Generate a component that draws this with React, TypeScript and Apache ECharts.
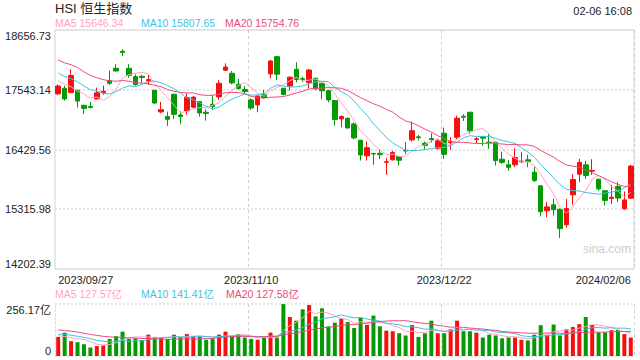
import React, { useEffect, useRef } from 'react';
import * as echarts from 'echarts';

const dates = [
  '2023/09/27', '2023/09/28', '2023/09/29',
  '2023/10/03', '2023/10/04', '2023/10/05', '2023/10/06', '2023/10/09', '2023/10/10', '2023/10/11', '2023/10/12', '2023/10/13',
  '2023/10/16', '2023/10/17', '2023/10/18', '2023/10/19', '2023/10/20', '2023/10/24', '2023/10/25', '2023/10/26', '2023/10/27',
  '2023/10/30', '2023/10/31',
  '2023/11/01', '2023/11/02', '2023/11/03', '2023/11/06', '2023/11/07', '2023/11/08', '2023/11/09', '2023/11/10',
  '2023/11/13', '2023/11/14', '2023/11/15', '2023/11/16', '2023/11/17', '2023/11/20', '2023/11/21', '2023/11/22',
  '2023/11/23', '2023/11/24', '2023/11/27', '2023/11/28', '2023/11/29', '2023/11/30',
  '2023/12/01', '2023/12/04', '2023/12/05', '2023/12/06', '2023/12/07', '2023/12/08', '2023/12/11', '2023/12/12',
  '2023/12/13', '2023/12/14', '2023/12/15', '2023/12/18', '2023/12/19', '2023/12/20', '2023/12/21', '2023/12/22',
  '2023/12/27', '2023/12/28', '2023/12/29',
  '2024/01/02', '2024/01/03', '2024/01/04', '2024/01/05', '2024/01/08', '2024/01/09', '2024/01/10', '2024/01/11',
  '2024/01/12', '2024/01/15', '2024/01/16', '2024/01/17', '2024/01/18', '2024/01/19', '2024/01/22', '2024/01/23',
  '2024/01/24', '2024/01/25', '2024/01/26', '2024/01/29', '2024/01/30', '2024/01/31',
  '2024/02/01', '2024/02/02', '2024/02/05', '2024/02/06',
];

const opens = [
  17466, 17571, 17490, 17534, 17254, 17230, 17372, 17490, 17713, 17943,
  18260, 17943, 17788, 17794, 17707, 17534, 17130, 17043, 17459, 17074,
  17149, 17217, 17323, 17124, 17273, 17410, 17906, 17850, 17645, 17546,
  17354, 17261, 17459, 17838, 18160, 17571, 17614, 17925, 17750, 17676,
  17757, 17664, 17527, 17341, 16999, 17012, 16907, 16603, 16311, 16355,
  16360, 16190, 16237, 16299, 16410, 16609, 16665, 16547, 16634, 16454,
  16733, 16559, 16659, 17049, 17124, 16615, 16659, 16566, 16566, 16249,
  16144, 16144, 16199, 16237, 16007, 15753, 15287, 15399, 15318, 15027,
  15585, 15970, 16144, 16026, 15877, 15660, 15517, 15740, 15324, 15523,
];
const closes = [
  17612, 17373, 17809, 17332, 17196, 17214, 17486, 17517, 17664, 17893,
  18238, 17813, 17640, 17773, 17732, 17296, 17172, 16992, 17085, 17045,
  17399, 17406, 17112, 17102, 17231, 17664, 17966, 17671, 17568, 17511,
  17203, 17426, 17397, 18079, 17833, 17454, 17778, 17734, 17735, 17911,
  17559, 17525, 17354, 16990, 17043, 16830, 16646, 16328, 16463, 16346,
  16334, 16201, 16374, 16229, 16402, 16780, 16650, 16505, 16614, 16590,
  16340, 16572, 17012, 17031, 16777, 16628, 16640, 16553, 16224, 16190,
  16097, 16280, 16212, 16210, 15850, 15270, 15360, 15306, 14955, 15330,
  15870, 16190, 15945, 16040, 15695, 15480, 15540, 15525, 15490, 16120,
];
const lows = [
  17450, 17340, 17480, 17211, 17093, 17192, 17365, 17447, 17633, 17885,
  18173, 17769, 17620, 17664, 17633, 17279, 17105, 16870, 16999, 16900,
  17074, 17205, 17043, 16969, 17167, 17354, 17893, 17645, 17540, 17478,
  17167, 17124, 17372, 17757, 17726, 17440, 17527, 17683, 17683, 17571,
  17540, 17366, 17310, 16876, 16845, 16825, 16620, 16224, 16224, 16144,
  16249, 15957, 16224, 16131, 16342, 16578, 16597, 16423, 16560, 16423,
  16256, 16423, 16609, 16962, 16721, 16547, 16504, 16442, 16131, 16162,
  16032, 16100, 16175, 16100, 15821, 15182, 15169, 15200, 14778, 14977,
  15399, 15821, 15883, 15957, 15660, 15386, 15411, 15449, 15306, 15511,
];
const highs = [
  17645, 17620, 17925, 17540, 17260, 17316, 17583, 17620, 17900, 18018,
  18297, 18018, 17831, 17819, 17819, 17540, 17316, 17136, 17465, 17136,
  17478, 17420, 17330, 17180, 17447, 17726, 18036, 17893, 17744, 17614,
  17385, 17447, 17540, 18098, 18173, 17580, 17788, 18055, 17788, 17931,
  17770, 17670, 17540, 17350, 17062, 17020, 16932, 16610, 16578, 16370,
  16442, 16268, 16404, 16310, 16566, 16950, 16702, 16578, 16733, 16625,
  16838, 16659, 17062, 17087, 17130, 16659, 16684, 16715, 16572, 16392,
  16237, 16454, 16379, 16330, 16113, 15760, 15449, 15511, 15325, 15505,
  15970, 16255, 16218, 16249, 15885, 15670, 15771, 15821, 15647, 16144,
];
// turnover, 亿
const volumes = [
  94, 115, 73, 68, 58, 42, 49, 52, 84, 98,
  120, 84, 87, 78, 105, 94, 91, 84, 105, 94,
  108, 98, 98, 80, 87, 105, 120, 98, 108, 91,
  84, 80, 91, 115, 91, 256, 192, 174, 230, 251,
  195, 235, 146, 164, 185, 167, 138, 188, 153, 199,
  146, 125, 122, 112, 101, 152, 94, 112, 174, 112,
  112, 132, 174, 122, 122, 115, 91, 105, 101, 87,
  91, 91, 80, 77, 105, 152, 105, 155, 101, 132,
  143, 157, 192, 152, 117, 117, 127, 129, 108, 91,
];
// sessions before the first visible day (feed the moving averages only)
const priorCloses = [
  18484, 18483, 18382, 18844, 18457, 18450, 18202, 18096, 18026, 18009,
  18047, 18182, 17930, 17997, 17885, 17655, 18057, 17729, 17466,
];
const priorVolumes = [
  165, 140, 150, 185, 155, 140, 150, 135, 140, 130,
  120, 115, 125, 110, 105, 135, 100, 95, 75,
];

const yTickLabels = ['14202.39', '15315.98', '16429.56', '17543.14', '18656.73'];
const volTickLabels = ['0', '256.17亿'];
const xLabelIndexes = [0, 30, 60, 89];
const splitIndexes = [30, 60];

const priceLegend = [
  { text: 'MA5 15646.34', color: '#ffa3c3' },
  { text: 'MA10 15807.65', color: '#3cc3e4' },
  { text: 'MA20 15754.76', color: '#ee4a7e' },
];
const volLegend = [
  { text: 'MA5 127.57亿', color: '#ffa3c3' },
  { text: 'MA10 141.41亿', color: '#3cc3e4' },
  { text: 'MA20 127.58亿', color: '#ee4a7e' },
];

const UP = '#f5100f';
const DOWN = '#059a05';
const FONT = '"Liberation Sans", Arial, "Noto Sans CJK SC", sans-serif';

function movingAverage(values: number[], prior: number[], n: number) {
  const all = prior.concat(values);
  return values.map((_, i) => {
    const end = prior.length + i;
    if (end - n + 1 < 0) return '-';
    let s = 0;
    for (let k = end - n + 1; k <= end; k++) s += all[k];
    return +(s / n).toFixed(2);
  });
}

export default function App() {
  const ref = useRef<HTMLDivElement>(null);
  useEffect(() => {
    if (!ref.current) return;
    const chart = echarts.init(ref.current, null, { renderer: 'svg' });
    const yMin = parseFloat(yTickLabels[0]);
    const yMax = parseFloat(yTickLabels[yTickLabels.length - 1]);
    const yInt = (yMax - yMin) / (yTickLabels.length - 1);
    const volMax = parseFloat(volTickLabels[1]);
    const candle = dates.map((_, i) => [opens[i], closes[i], lows[i], highs[i]]);
    const volData = volumes.map((v, i) => ({
      value: v,
      itemStyle: { color: closes[i] >= opens[i] ? UP : DOWN },
    }));
    const nearest = (v: number, labels: string[]) => {
      let best = labels[0];
      let bd = Infinity;
      labels.forEach((l) => {
        const d = Math.abs(parseFloat(l) - v);
        if (d < bd) { bd = d; best = l; }
      });
      return best;
    };
    const maLine = (name: string, data: any[], color: string, x: number) => ({
      name,
      type: 'line',
      xAxisIndex: x,
      yAxisIndex: x,
      data,
      showSymbol: false,
      smooth: false,
      lineStyle: { width: 1, color },
      itemStyle: { color },
      z: 3,
    });
    const xAxisBase = {
      type: 'category',
      data: dates,
      boundaryGap: true,
      axisLine: { show: false },
      axisTick: { show: false },
      splitLine: {
        show: true,
        interval: (i: number) => splitIndexes.includes(i),
        lineStyle: { color: '#cfcfcf', type: [3, 3], width: 1 },
      },
    };
    chart.setOption({
      animation: false,
      backgroundColor: '#fff',
      textStyle: { fontFamily: FONT },
      grid: [
        { left: 55, right: 6, top: 30, height: 239, show: true, borderColor: '#d4d4d4', borderWidth: 1 },
        { left: 55, right: 6, top: 304, height: 52, show: false },
      ],
      xAxis: [
        {
          ...xAxisBase,
          gridIndex: 0,
          axisLabel: {
            interval: (i: number) => xLabelIndexes.includes(i),
            color: '#222',
            fontSize: 11,
            margin: 5,
            fontFamily: FONT,
            alignMinLabel: 'left',
            alignMaxLabel: 'right',
          },
        },
        { ...xAxisBase, gridIndex: 1, axisLabel: { show: false } },
      ],
      yAxis: [
        {
          type: 'value',
          gridIndex: 0,
          min: yMin,
          max: yMax,
          interval: yInt,
          axisLine: { show: false },
          axisTick: { show: false },
          axisLabel: {
            formatter: (v: number) => nearest(v, yTickLabels),
            color: '#222',
            fontSize: 11,
            margin: 4,
            fontFamily: FONT,
            verticalAlignMinLabel: 'bottom',
            verticalAlignMaxLabel: 'top',
          },
          splitLine: { lineStyle: { color: '#dcdcdc', type: [2, 2], width: 1.5 } },
        },
        {
          type: 'value',
          gridIndex: 1,
          min: 0,
          max: volMax,
          interval: volMax,
          axisLine: { show: true, lineStyle: { color: '#dcdcdc', type: [2, 2] } },
          axisTick: { show: false },
          axisLabel: {
            formatter: (v: number) => nearest(v, volTickLabels),
            color: '#222',
            fontSize: 11,
            margin: 4,
            fontFamily: FONT,
            verticalAlignMinLabel: 'bottom',
            verticalAlignMaxLabel: 'top',
          },
          splitLine: { lineStyle: { color: '#dcdcdc', type: [2, 2], width: 1.5 } },
        },
      ],
      series: [
        {
          name: 'K',
          type: 'candlestick',
          xAxisIndex: 0,
          yAxisIndex: 0,
          data: candle,
          barWidth: 5,
          itemStyle: { color: UP, color0: DOWN, borderColor: UP, borderColor0: DOWN, borderWidth: 1 },
          z: 2,
        },
        maLine('MA5', movingAverage(closes, priorCloses, 5), '#ffa3c3', 0),
        maLine('MA10', movingAverage(closes, priorCloses, 10), '#3cc3e4', 0),
        maLine('MA20', movingAverage(closes, priorCloses, 20), '#ee4a7e', 0),
        {
          name: 'VOL',
          type: 'bar',
          xAxisIndex: 1,
          yAxisIndex: 1,
          data: volData,
          barWidth: 4,
          z: 2,
        },
        maLine('VMA5', movingAverage(volumes, priorVolumes, 5), '#ffa3c3', 1),
        maLine('VMA10', movingAverage(volumes, priorVolumes, 10), '#3cc3e4', 1),
        maLine('VMA20', movingAverage(volumes, priorVolumes, 20), '#ee4a7e', 1),
      ],
      graphic: [
        { type: 'text', left: 55, top: 2, style: { text: 'HSI 恒生指数', fill: '#222', font: `13px ${FONT}` } },
        { type: 'text', right: 8, top: 5, style: { text: '02-06 16:08', fill: '#222', font: `11px ${FONT}` } },
        ...priceLegend.map((l, i) => ({
          type: 'text', left: [55, 141, 225][i], top: 18, style: { text: l.text, fill: l.color, font: `10.5px ${FONT}` },
        })),
        ...volLegend.map((l, i) => ({
          type: 'text', left: [55, 141, 226][i], top: 289, style: { text: l.text, fill: l.color, font: `10.5px ${FONT}` },
        })),
        { type: 'text', left: 583, top: 243, style: { text: 'sina.com', fill: '#cccccc', font: `12px ${FONT}` } },
      ],
    });
    return () => chart.dispose();
  }, []);
  return <div ref={ref} style={{ width: 640, height: 360, position: 'absolute', left: 0, top: 0 }} />;
}
